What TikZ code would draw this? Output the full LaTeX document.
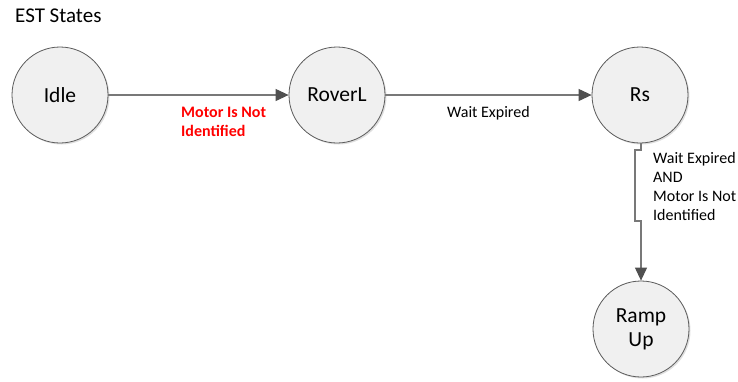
\documentclass[tikz,border=0pt]{standalone}
\usepackage{fontspec}
\setmainfont{Carlito}
\usetikzlibrary{arrows.meta,shadows}
\definecolor{nodefill}{RGB}{240,240,240}
\definecolor{nodeline}{RGB}{90,90,90}
\definecolor{conn}{RGB}{120,120,120}
\definecolor{tip}{RGB}{80,80,80}
\definecolor{redlbl}{RGB}{255,0,0}
\tikzset{
  state/.style={circle, draw=nodeline, line width=0.8pt, fill=nodefill,
    minimum size=96pt, inner sep=0pt, font=\fontsize{21.5}{24}\selectfont, align=center,
    drop shadow={shadow xshift=1.5pt, shadow yshift=-1.5pt, fill=black!18, opacity=0.7}},
  conn/.style={draw=conn, line width=1.1pt, -{Triangle[length=13pt,width=12pt,fill=tip,color=tip]}},
  lbl/.style={font=\fontsize{16}{19}\selectfont, align=left, inner sep=0pt, anchor=north west},
  title/.style={font=\fontsize{21}{24}\selectfont, inner sep=0pt, anchor=north west}
}
\begin{document}
\begin{tikzpicture}[x=1pt,y=-1pt]
\useasboundingbox (0,0) rectangle (738,381);
\node[title] (t) at (15,9) {EST States};
\node[state] (idle) at (60,95) {Idle};
\node[state] (roverl) at (337,95) {RoverL};
\node[state] (rs) at (640,95) {Rs};
\node[state] (ramp) at (641,329) {Ramp\\Up};
\draw[conn] (idle.east) -- (roverl.west);
\draw[conn] (roverl.east) -- (rs.west);
\coordinate (j1) at (641,150);
\coordinate (j2) at (635,150);
\coordinate (j3) at (635,221);
\coordinate (j4) at (641,221);
\draw[conn] (rs.south -| j1) -- (j1) -- (j2) -- (j3) -- (j4) -- (ramp.north -| j4);
\node[lbl, text=redlbl, font=\fontsize{16}{19}\selectfont\bfseries] (l1) at (181,107) {Motor Is Not\\Identified};
\node[lbl] (l2) at (447,106) {Wait Expired};
\node[lbl] (l3) at (653,152) {Wait Expired\\AND\\Motor Is Not\\Identified};
\end{tikzpicture}
\end{document}
